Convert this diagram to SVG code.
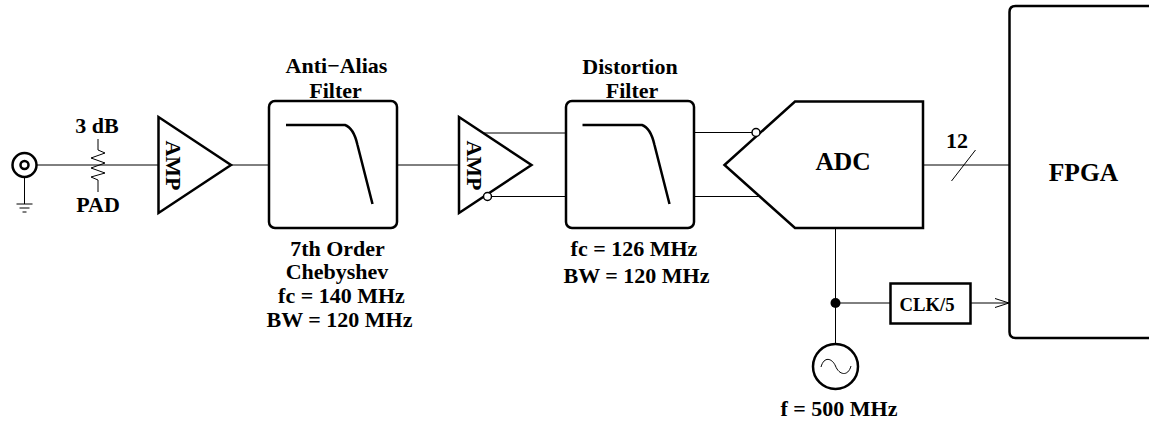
<svg xmlns="http://www.w3.org/2000/svg" width="1149" height="424" viewBox="0 0 1149 424">
<style>
text{font-family:"Liberation Serif","Times New Roman",serif;font-weight:bold;font-size:22px;fill:#000;text-anchor:middle}
.big{font-size:25.500px}
.small{font-size:18.700px}
.b{fill:none;stroke:#000;stroke-width:2.500;stroke-linejoin:miter}
.w{fill:#fff;stroke:#000;stroke-width:2.500}
.t{fill:#fff;stroke:#000;stroke-width:1.500}
.l{fill:none;stroke:#000;stroke-width:1}
</style>
<rect width="1149" height="424" fill="#fff"/>
<g id="connectors">
<path class="l" d="M36 165H158M231 165H269M397 165H459"/>
<path class="l" d="M24.500 177V204"/>
<path class="l" d="M484 133H566M491 196.500H566M694 132.500H752M694 196.500H762"/>
<path class="l" d="M923 165H1009"/>
<path class="l" d="M975.500 150L951.500 181"/>
<path class="l" d="M835.500 228V344"/>
<path class="l" d="M835.500 303H890M971 303H1009"/>
<path class="l" d="M995 298.500L1009 303L995 307.500"/>
</g>
<g id="bnc">
<circle class="w" cx="24.500" cy="165" r="12"/>
<circle class="b" cx="24.500" cy="165" r="4"/>
<path class="l" d="M16.500 204H32.500M19.500 208H29.500M22.500 212H26.500"/>
</g>
<g id="pad">
<path class="l" d="M98 139V150L105 153L91 158L105 163L91 168L105 173L91 177L98 180V192"/>
<text x="97" y="133">3 dB</text>
<text x="98" y="212">PAD</text>
</g>
<g id="amp1">
<path class="w" d="M158.500 117V213L231 165Z"/>
<text transform="translate(166 165.500) rotate(90)">AMP</text>
</g>
<g id="filter1">
<rect class="w" x="269" y="101" width="128" height="127" rx="6"/>
<path class="b" d="M286 125H345C351 127 355 134 357.500 145L372.500 204"/>
<text x="336.500" y="73">Anti−Alias</text>
<text x="335.500" y="98">Filter</text>
<text x="337.500" y="256">7th Order</text>
<text x="337" y="279">Chebyshev</text>
<text x="341.500" y="303">fc = 140 MHz</text>
<text x="339.500" y="327">BW = 120 MHz</text>
</g>
<g id="amp2">
<path class="w" d="M459 117V213L531.500 165Z"/>
<text transform="translate(467 165.500) rotate(90)">AMP</text>
<circle class="t" cx="487.500" cy="196.500" r="4"/>
</g>
<g id="filter2">
<rect class="w" x="566" y="101" width="128" height="127" rx="6"/>
<path class="b" d="M582.500 125H642C648 127 652 134 654.500 145L669.500 204"/>
<text x="630" y="74">Distortion</text>
<text x="632" y="98">Filter</text>
<text x="634" y="256">fc = 126 MHz</text>
<text x="636.500" y="283">BW = 120 MHz</text>
</g>
<g id="adc">
<path class="w" d="M724.500 165L795 101.500H923V228H795Z"/>
<circle class="t" cx="756" cy="132.500" r="4"/>
<text class="big" x="843" y="170">ADC</text>
</g>
<g id="bus-label">
<text x="957" y="148">12</text>
</g>
<g id="fpga">
<path class="b" d="M1160 6H1015.500Q1009.500 6 1009.500 12V332Q1009.500 338 1015.500 338H1160"/>
<text class="big" x="1083.500" y="181">FPGA</text>
</g>
<g id="clk">
<rect class="w" x="890.500" y="283.500" width="80" height="40"/>
<text class="small" x="927" y="311">CLK/5</text>
</g>
<g id="junction">
<circle cx="835.500" cy="303" r="5" fill="#000"/>
</g>
<g id="osc">
<circle class="w" cx="835.500" cy="366.500" r="22.500"/>
<path class="l" d="M821 367C824 356 832 358 835.500 366C839 375 848 377 851 366"/>
<text x="839" y="416">f = 500 MHz</text>
</g>
</svg>
